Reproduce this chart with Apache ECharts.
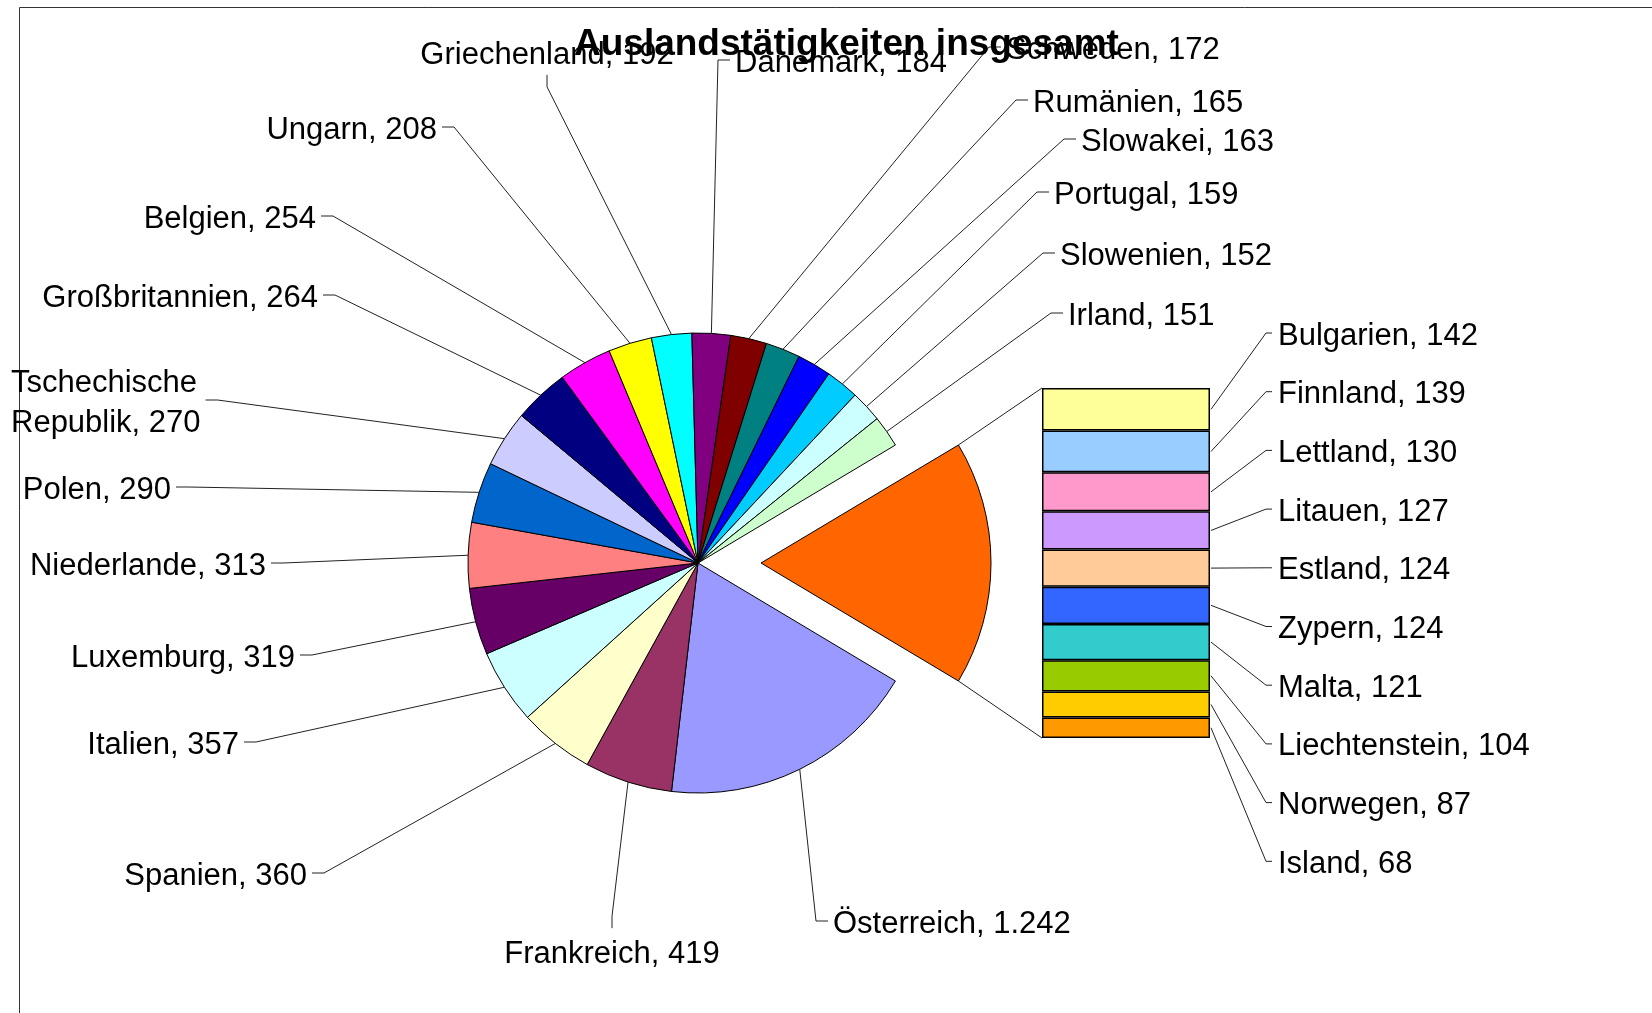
<!DOCTYPE html>
<html>
<head>
<meta charset="utf-8">
<script src="https://cdn.jsdelivr.net/npm/echarts@6/dist/echarts.min.js"></script>
<style>
html,body{margin:0;padding:0;background:#fff;}
#c{width:1652px;height:1013px;}
</style>
</head>
<body>
<div id="c"></div>
<script>
// ---------------- DATA ----------------
const titleText = 'Auslandstätigkeiten insgesamt';
const pieNames = ['Österreich','Frankreich','Spanien','Italien','Luxemburg','Niederlande','Polen',
  'Tschechische Republik','Großbritannien','Belgien','Ungarn','Griechenland','Dänemark','Schweden',
  'Rumänien','Slowakei','Portugal','Slowenien','Irland'];
const pieValues = [1242,419,360,357,319,313,290,270,264,254,208,192,184,172,165,163,159,152,151];
const otherName = 'Sonstige';
const barNames = ['Bulgarien','Finnland','Lettland','Litauen','Estland','Zypern','Malta','Liechtenstein','Norwegen','Island'];
const barValues = [142,139,130,127,124,124,121,104,87,68];

// ---------------- STYLE / LAYOUT ----------------
const pieColors = ['#9999FF','#993366','#FFFFCC','#CCFFFF','#660066','#FF8080','#0066CC','#CCCCFF',
  '#000080','#FF00FF','#FFFF00','#00FFFF','#800080','#800000','#008080','#0000FF','#00CCFF','#CCFFFF','#CCFFCC'];
const otherColor = '#FF6600';
const barColors = ['#FFFF99','#99CCFF','#FF99CC','#CC99FF','#FFCC99','#3366FF','#33CCCC','#99CC00','#FFCC00','#FF9900'];

const FONT = '"Liberation Sans", Arial, sans-serif';
const FS = 31;
const LABEL_DY = 3;
const PIE_CX = 698, PIE_CY = 563, PIE_R = 230, EXPLODE = 63;
const GRID = {left: 1042, top: 388, width: 168, height: 350};
// label placement: x, y, text align, side of the label where the leader line attaches
const pieLabelPos = [
  [833, 921, 'left', 'left'],
  [612, 951, 'center', 'top'],
  [307, 873, 'right', 'right'],
  [239, 742, 'right', 'right'],
  [295, 655, 'right', 'right'],
  [266, 563, 'right', 'right'],
  [171, 487, 'right', 'right'],
  [11, 400, 'left', 'right'],
  [318, 295, 'right', 'right'],
  [316, 216, 'right', 'right'],
  [437, 127, 'right', 'right'],
  [547, 52, 'center', 'bottom'],
  [735, 60, 'left', 'left'],
  [1006, 47, 'left', 'left'],
  [1033, 100, 'left', 'left'],
  [1081, 139, 'left', 'left'],
  [1054, 192, 'left', 'left'],
  [1060, 253, 'left', 'left'],
  [1068, 313, 'left', 'left']
];
const BAR_LABEL_X = 1278, BAR_LABEL_Y0 = 333, BAR_LABEL_STEP = 58.7;

function fmt(v){ return String(v).replace(/\B(?=(\d{3})+(?!\d))/g, '.'); }
function pieLabelText(name, value){ return name.replace(' Republik', '\nRepublik') + ', ' + fmt(value); }

const otherTotal = barValues.reduce((a,b)=>a+b,0);
const grandTotal = pieValues.reduce((a,b)=>a+b,0) + otherTotal;
const otherDeg = otherTotal / grandTotal * 360;
const startAngle = -otherDeg / 2;

const pieData = pieNames.map((n,i)=>{
  const d = {name:n, value:pieValues[i], itemStyle:{color:pieColors[i]}};
  if (n.indexOf(' ') > 0) d.label = {lineHeight: 40};
  return d;
});
pieData.push({name: otherName, value: otherTotal, selected: true, itemStyle:{color: otherColor}, label:{show:false}});

const chart = echarts.init(document.getElementById('c'), null, {renderer:'canvas'});

const series = [{
  type: 'pie',
  center: [PIE_CX, PIE_CY],
  radius: PIE_R,
  startAngle: startAngle,
  clockwise: true,
  selectedMode: 'single',
  selectedOffset: EXPLODE,
  avoidLabelOverlap: false,
  animation: false,
  silent: true,
  emphasis: {disabled: true},
  itemStyle: {borderColor: '#000', borderWidth: 1},
  label: {show: true, position: 'outside', fontSize: FS, fontFamily: FONT, color: '#000',
    formatter: p => pieLabelText(p.name, p.value)},
  labelLine: {show: false},
  labelLayout: function(p){
    const L = pieLabelPos[p.dataIndex];
    if (!L) return {};
    return {x: L[0], y: L[1] + LABEL_DY, align: L[2], verticalAlign: 'middle'};
  },
  data: pieData
}];

barNames.forEach((n,i)=>{
  series.push({
    type: 'bar', name: n, stack: 'rest', data: [barValues[i]],
    barWidth: '100%', animation: false, silent: true,
    itemStyle: {color: barColors[i], borderColor: '#000', borderWidth: 1.5},
    label: {show: true, position: 'right', fontSize: FS, fontFamily: FONT, color: '#000',
      formatter: p => p.seriesName + ', ' + fmt(p.value)},
    labelLayout: function(){
      return {x: BAR_LABEL_X, y: BAR_LABEL_Y0 + i*BAR_LABEL_STEP + LABEL_DY, align: 'left', verticalAlign: 'middle'};
    }
  });
});

const option = {
  backgroundColor: '#fff',
  animation: false,
  title: {text: titleText, left: 574, top: 26, padding: 0,
    textStyle: {fontSize: 37, fontWeight: 'bold', fontFamily: FONT, color: '#000'}},
  grid: {left: GRID.left, top: GRID.top, width: GRID.width, height: GRID.height},
  xAxis: {type: 'category', data: ['rest'], show: false},
  yAxis: {type: 'value', min: 0, max: otherTotal, inverse: true, show: false},
  series: series
};
chart.setOption(option);

// ---------- leader lines from the library's layouts ----------
const ctx = document.createElement('canvas').getContext('2d');
ctx.font = FS + 'px ' + FONT;
function textSize(t){
  const lines = t.split('\n');
  let w = 0; lines.forEach(l=>{ w = Math.max(w, ctx.measureText(l).width); });
  return {w: w, h: lines.length * FS * 1.15};
}
const GAP = 5, TICK = 12;
const graphics = [];
// plot-area border
graphics.push({type:'rect', shape:{x:19.5, y:7.5, width:1700, height:1100}, style:{fill:null, stroke:'#333', lineWidth:1}, z:1, silent:true});

const model = chart.getModel();
const pd = model.getSeriesByIndex(0).getData();
for (let i=0;i<pieNames.length;i++){
  const L = pd.getItemLayout(i);
  const mid = (L.startAngle + L.endAngle)/2;
  const ax = L.cx + L.r*Math.cos(mid), ay = L.cy + L.r*Math.sin(mid);
  const P = pieLabelPos[i];
  const s = textSize(pieLabelText(pieNames[i], pieValues[i]));
  const left = P[2]==='left' ? P[0] : (P[2]==='right' ? P[0]-s.w : P[0]-s.w/2);
  const top = P[1] - s.h/2;
  let inner, outer;
  if (P[3]==='right'){ inner=[left+s.w+GAP, P[1]]; outer=[left+s.w+GAP+TICK, P[1]]; }
  else if (P[3]==='left'){ inner=[left-GAP, P[1]]; outer=[left-GAP-TICK, P[1]]; }
  else if (P[3]==='top'){ inner=[left+s.w/2, top-GAP]; outer=[left+s.w/2, top-GAP-TICK]; }
  else { inner=[left+s.w/2, top+s.h+GAP]; outer=[left+s.w/2, top+s.h+GAP+TICK]; }
  graphics.push({type:'polyline', shape:{points:[[ax,ay], outer, inner]}, style:{stroke:'#222', lineWidth:1, fill:null}, z:3, silent:true});
}
// connector lines exploded slice -> stacked bar
const Lo = pd.getItemLayout(pieNames.length);
const mo = (Lo.startAngle + Lo.endAngle)/2;
const ox = Lo.cx + EXPLODE*Math.cos(mo), oy = Lo.cy + EXPLODE*Math.sin(mo);
let e1 = [ox + Lo.r*Math.cos(Lo.startAngle), oy + Lo.r*Math.sin(Lo.startAngle)];
let e2 = [ox + Lo.r*Math.cos(Lo.endAngle), oy + Lo.r*Math.sin(Lo.endAngle)];
if (e1[1] > e2[1]) { const t = e1; e1 = e2; e2 = t; }
let bTop = Infinity, bBot = -Infinity, bLeft = 0, bRight = 0;
const segs = [];
for (let i=0;i<barNames.length;i++){
  const bl = model.getSeriesByIndex(1+i).getData().getItemLayout(0);
  const y0 = Math.min(bl.y, bl.y+bl.height), y1 = Math.max(bl.y, bl.y+bl.height);
  bTop = Math.min(bTop, y0); bBot = Math.max(bBot, y1);
  bLeft = Math.min(bl.x, bl.x+bl.width); bRight = Math.max(bl.x, bl.x+bl.width);
  segs.push((y0+y1)/2);
}
graphics.push({type:'line', shape:{x1:e1[0], y1:e1[1], x2:bLeft, y2:bTop}, style:{stroke:'#222', lineWidth:1}, z:3, silent:true});
graphics.push({type:'line', shape:{x1:e2[0], y1:e2[1], x2:bLeft, y2:bBot}, style:{stroke:'#222', lineWidth:1}, z:3, silent:true});
for (let i=0;i<barNames.length;i++){
  const ly = BAR_LABEL_Y0 + i*BAR_LABEL_STEP;
  graphics.push({type:'polyline', shape:{points:[[bRight+1, segs[i]], [BAR_LABEL_X-12, ly], [BAR_LABEL_X-6, ly]]},
    style:{stroke:'#222', lineWidth:1, fill:null}, z:3, silent:true});
}
chart.setOption({graphic: graphics});
</script>
</body>
</html>
